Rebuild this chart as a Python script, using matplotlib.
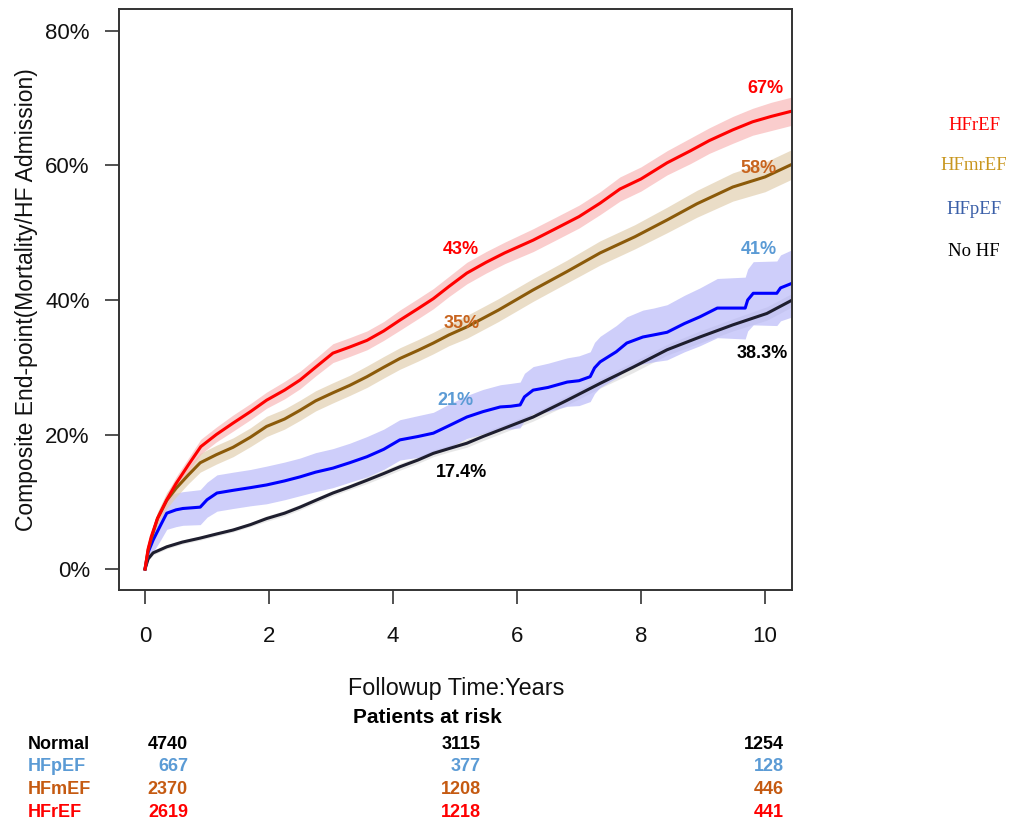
import numpy as np
import matplotlib
matplotlib.use("Agg")
import matplotlib.pyplot as plt

plt.rcParams['font.family'] = ['Liberation Sans', 'DejaVu Sans']

# cumulative composite end-point (%), read at follow-up times (years)
t_hfref = [0, 0.05, 0.1, 0.2, 0.35, 0.5, 0.7, 0.9, 1.15, 1.42, 1.7, 1.96, 2.25, 2.5, 2.75,
           3.03, 3.3, 3.58, 3.85, 4.11, 4.4, 4.65, 4.9, 5.19, 5.5, 5.8, 6.26, 6.6, 7.0,
           7.34, 7.66, 8.0, 8.42, 8.8, 9.1, 9.48, 9.8, 10.1, 10.44]
y_hfref = [0, 3, 4.8, 7.5, 10.3, 12.7, 15.5, 18.2, 20, 21.7, 23.4, 25.1, 26.6, 28.1, 30,
           32.1, 33, 34, 35.4, 37, 38.7, 40.2, 42, 44, 45.6, 47, 48.9, 50.5, 52.4,
           54.4, 56.5, 58, 60.4, 62.2, 63.7, 65.3, 66.5, 67.3, 68.1]
hw_hfref = [0, 0.4, 0.6, 0.8, 0.9, 1.0, 1.0, 1.1, 1.1, 1.2, 1.2, 1.2, 1.3, 1.3, 1.3,
            1.4, 1.4, 1.4, 1.4, 1.5, 1.5, 1.5, 1.5, 1.6, 1.6, 1.6, 1.7, 1.7, 1.7,
            1.7, 1.8, 1.8, 1.8, 1.9, 1.9, 2.0, 2.0, 2.1, 2.1]

t_hfmref = [0, 0.05, 0.1, 0.2, 0.35, 0.5, 0.7, 0.89, 1.15, 1.42, 1.7, 1.96, 2.25, 2.5, 2.75,
            3.03, 3.3, 3.58, 3.85, 4.11, 4.4, 4.65, 4.9, 5.19, 5.7, 6.26, 6.8, 7.34, 7.9,
            8.42, 8.9, 9.48, 10.0, 10.44]
y_hfmref = [0, 2.8, 4.5, 7.5, 10.2, 12, 14, 15.8, 17, 18.1, 19.6, 21.2, 22.3, 23.6, 25,
            26.2, 27.3, 28.6, 30, 31.3, 32.5, 33.6, 34.8, 36, 38.5, 41.5, 44.2, 47, 49.4,
            51.9, 54.3, 56.8, 58.3, 60.2]
hw_hfmref = [0, 0.5, 0.8, 1.0, 1.2, 1.3, 1.3, 1.4, 1.4, 1.4, 1.4, 1.5, 1.5, 1.5, 1.5,
             1.5, 1.5, 1.6, 1.6, 1.6, 1.6, 1.6, 1.6, 1.7, 1.7, 1.7, 1.7, 1.8, 1.8,
             1.9, 2.0, 2.1, 2.2, 2.2]

t_hfpef = [0, 0.05, 0.13, 0.25, 0.35, 0.5, 0.61, 0.89, 1.0, 1.16, 1.42, 1.7, 1.96, 2.25, 2.5,
           2.75, 3.03, 3.3, 3.58, 3.85, 4.11, 4.4, 4.65, 4.9, 5.19, 5.45, 5.73, 5.9, 6.05,
           6.12, 6.26, 6.5, 6.81, 7.0, 7.18, 7.25, 7.34, 7.6, 7.77, 8.03, 8.2, 8.42, 8.7,
           8.95, 9.23, 9.68, 9.72, 9.81, 10.19, 10.25, 10.44]
y_hfpef = [0, 2.5, 4.3, 6.5, 8.3, 8.8, 9.0, 9.2, 10.3, 11.3, 11.7, 12.1, 12.5, 13.1, 13.7,
           14.4, 15.0, 15.8, 16.7, 17.8, 19.2, 19.7, 20.2, 21.3, 22.6, 23.4, 24.1, 24.2, 24.4,
           25.6, 26.6, 27.0, 27.8, 28.0, 28.6, 29.9, 30.8, 32.3, 33.6, 34.5, 34.8, 35.2, 36.5,
           37.5, 38.8, 38.8, 40.0, 41.0, 41.0, 41.8, 42.5]
hw_hfpef = [0, 1.0, 1.8, 2.2, 2.4, 2.5, 2.5, 2.6, 2.6, 2.7, 2.7, 2.7, 2.8, 2.8, 2.8,
            2.9, 2.9, 2.9, 3.0, 3.0, 3.0, 3.1, 3.1, 3.2, 3.2, 3.3, 3.3, 3.4, 3.4,
            3.5, 3.5, 3.6, 3.6, 3.7, 3.7, 3.8, 3.8, 3.9, 3.9, 4.0, 4.0, 4.1, 4.2,
            4.3, 4.4, 4.6, 4.6, 4.7, 4.8, 4.9, 5.0]

t_nohf = [0, 0.05, 0.13, 0.35, 0.6, 0.89, 1.15, 1.42, 1.7, 1.96, 2.25, 2.5, 2.75, 3.03, 3.3,
          3.58, 3.85, 4.11, 4.4, 4.65, 4.9, 5.19, 5.45, 5.73, 6.26, 6.81, 7.34, 7.87, 8.42,
          8.95, 9.48, 10.03, 10.44]
y_nohf = [0, 1.5, 2.4, 3.3, 4.0, 4.6, 5.2, 5.8, 6.6, 7.5, 8.3, 9.2, 10.2, 11.3, 12.2,
          13.2, 14.2, 15.2, 16.2, 17.2, 17.9, 18.7, 19.7, 20.7, 22.6, 25.1, 27.6, 30.0, 32.6,
          34.5, 36.3, 38.0, 40.0]
hw_nohf = [0, 0.2, 0.3, 0.3, 0.3, 0.3, 0.3, 0.3, 0.3, 0.4, 0.4, 0.4, 0.4, 0.4, 0.4,
           0.5, 0.5, 0.5, 0.5, 0.5, 0.5, 0.6, 0.6, 0.6, 0.6, 0.7, 0.7, 0.8, 0.8,
           0.9, 0.9, 1.0, 1.0]

# value labels: (x, y, text) per group
lab_hfref = [(5.1, 47.5, '43%'), (10.0, 71.5, '67%')]
lab_hfmref = [(5.1, 36.5, '35%'), (9.9, 59.5, '58%')]
lab_hfpef = [(5.0, 25.0, '21%'), (9.9, 47.5, '41%')]
lab_nohf = [(5.1, 14.3, '17.4%'), (9.95, 32.0, '38.3%')]

# patients at risk table
risk_groups = ['Normal', 'HFpEF', 'HFmEF', 'HFrEF']
risk_at_0 = [4740, 667, 2370, 2619]
risk_at_5 = [3115, 377, 1208, 1218]
risk_at_10 = [1254, 128, 446, 441]

legend_names = ['HFrEF', 'HFmrEF', 'HFpEF', 'No HF']
legend_colors = ['#ff0000', '#c8961e', '#3a5fa8', '#000000']

fig = plt.figure(figsize=(10.10, 8.22), dpi=100)
ax = fig.add_axes([119/1010, 1-590/822, 673/1010, 581/822])

series = [
    (t_nohf, y_nohf, hw_nohf, '#1e1e2e', '#d8d8d8', 0.6, lab_nohf, '#000000'),
    (t_hfpef, y_hfpef, hw_hfpef, '#0000ff', '#b4b4f8', 0.65, lab_hfpef, '#5b9bd5'),
    (t_hfmref, y_hfmref, hw_hfmref, '#8b5a0a', '#e2cfb0', 0.7, lab_hfmref, '#c8641e'),
    (t_hfref, y_hfref, hw_hfref, '#ff0000', '#f9b8b8', 0.7, lab_hfref, '#ff0000'),
]
for t, y, hw, lc, bc, ba, labs, tc in series:
    t = np.array(t)
    y = np.array(y)
    hw = np.array(hw)
    ax.fill_between(t, y - hw, y + hw, color=bc, alpha=ba, lw=0)
for t, y, hw, lc, bc, ba, labs, tc in series:
    ax.plot(t, y, color=lc, lw=2.2, solid_joinstyle='round')
    for lx, ly, txt in labs:
        ax.text(lx, ly, txt, color=tc, fontsize=13, fontweight='bold', ha='center', va='center')

ax.set_xlim(-0.42, 10.435)
ax.set_ylim(-3.12, 83.27)
ax.set_xticks([0, 2, 4, 6, 8, 10])
ax.set_yticks([0, 20, 40, 60, 80])
ax.set_yticklabels(['0%', '20%', '40%', '60%', '80%'])
ax.tick_params(direction='out', length=10, width=1.2, colors='#333333', labelcolor='#111111',
               labelsize=16)
ax.tick_params(axis='x', pad=16)
ax.tick_params(axis='y', pad=11)
for s in ax.spines.values():
    s.set_color('#333333')
    s.set_linewidth(1.4)

fig.text(27/1010, 1-300/822, 'Composite End-point(Mortality/HF Admission)', rotation=90,
         ha='center', va='center', fontsize=16.5, color='#111111')
fig.text(456/1010, 1-688/822, 'Followup Time:Years', ha='center', va='center',
         fontsize=16.8, color='#111111')
fig.text(427/1010, 1-717/822, 'Patients at risk', ha='center', va='center',
         fontsize=15, fontweight='bold')

risk_colors = ['#000000', '#5b9bd5', '#c55a11', '#ff0000']
row_y = [744, 766, 789, 812]
for i, g in enumerate(risk_groups):
    yy = 1 - row_y[i]/822
    fig.text(28/1010, yy, g, color=risk_colors[i], fontsize=13, fontweight='bold',
             ha='left', va='center')
    for xr, v in zip([188, 481, 784], [risk_at_0[i], risk_at_5[i], risk_at_10[i]]):
        fig.text(xr/1010, yy, str(v), color=risk_colors[i], fontsize=13,
                 fontweight='bold', ha='right', va='center')

leg_y = [125, 166, 210, 251]
for name, c, yy in zip(legend_names, legend_colors, leg_y):
    fig.text(974/1010, 1-yy/822, name, color=c, fontsize=13.5, family='Liberation Serif',
             ha='center', va='center')

fig.savefig('out.png', dpi=100)
